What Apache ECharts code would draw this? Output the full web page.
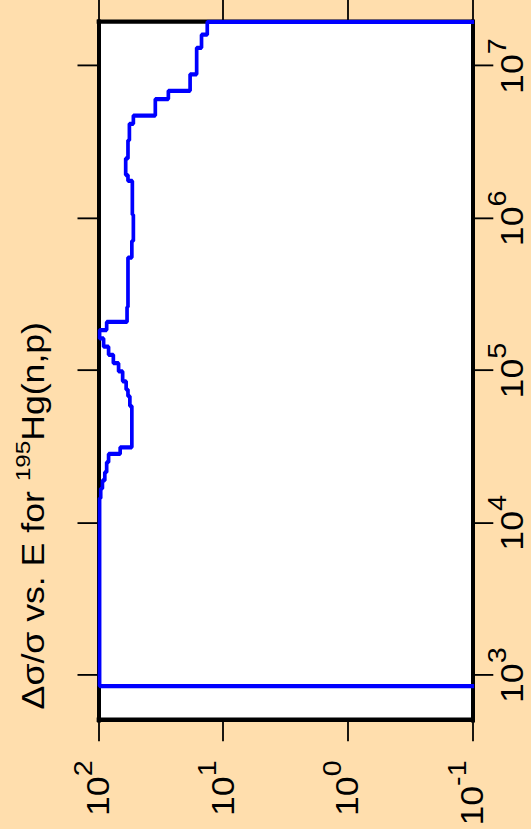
<!DOCTYPE html>
<html>
<head>
<meta charset="utf-8">
<script src="https://cdn.jsdelivr.net/npm/echarts@6/dist/echarts.min.js"></script>
<style>
  html, body { margin: 0; padding: 0; background: #FFDEAD; overflow: hidden; width: 531px; height: 829px; }
  #chart { position: absolute; left: 0; top: 0; width: 721px; height: 531px;
           transform-origin: 0 0; transform: translate(0px, 829px) rotate(-90deg) scaleX(1.15); }
</style>
</head>
<body>
<div id="chart"></div>
<script>
// Bin lower edges of incident energy E (eV); value holds until next edge
const energy = [500, 848, 14530, 16800, 19020, 21540, 25020, 28380, 31330, 58520, 67960, 75130,
  85050, 98810, 111900, 126900, 143700, 162700, 184500, 208900, 261600, 553200, 710400,
  1057000, 1760000, 1926000, 2474000, 3253000, 4177000, 4729000, 6072000, 6878000, 8831000,
  13180000, 16080000, 19530000];
// Relative uncertainty Δσ/σ for each bin (0.01 = below plotted range)
const relErr = [0.01, 98, 96, 93, 89, 86, 83, 67, 54, 56, 58, 60,
  64, 69, 76, 83, 91, 98, 86, 59, 58, 54, 52.5,
  53.5, 58, 60.5, 58, 56.5, 52.5, 35, 27.5, 18.4, 16.3,
  14.9, 13.4, 0.01];
const eTicks = [1e3, 1e4, 1e5, 1e6, 1e7];
const errTicks = [0.1, 1, 10, 100];
const eRange = [507, 1.953e7];
const errRange = [0.1, 100];
const titleMain = 'Δσ/σ vs. E for ';
const titleSup = '195';
const titleTail = 'Hg(n,p)';

const FONT = '"Liberation Sans", Arial, Helvetica, sans-serif';
const rich = {
  m: { fontSize: 31, lineHeight: 10, verticalAlign: 'bottom', fontFamily: FONT, color: '#000', fontWeight: 'normal' },
  s: { fontSize: 25, lineHeight: 43, verticalAlign: 'top', fontFamily: FONT, color: '#000', fontWeight: 'normal' }
};
function powLabel(v) {
  const e = Math.round(Math.log10(v));
  return '{m|10}{s|' + e + '}';
}

const chart = echarts.init(document.getElementById('chart'), null, { renderer: 'svg', width: 721, height: 531 });
const tickStyle = { color: '#000', width: 1.6 };
chart.setOption({
  animation: false,
  backgroundColor: '#FFDEAD',
  title: {
    text: '{m|' + titleMain + '}{s|' + titleSup + '}{m|' + titleTail + '}',
    left: 104, top: 13, padding: 0,
    textStyle: {
      fontWeight: 'normal',
      rich: {
        m: { fontSize: 31, lineHeight: 40, fontFamily: FONT, color: '#000', fontWeight: 'normal' },
        s: { fontSize: 21, lineHeight: 21, verticalAlign: 'top', fontFamily: FONT, color: '#000', fontWeight: 'normal' }
      }
    }
  },
  grid: { left: 88.7, right: 19.1, top: 98.5, bottom: 58.7, show: true, backgroundColor: '#fff', borderWidth: 0, containLabel: false },
  xAxis: [
    {
      type: 'log', logBase: 10, min: eRange[0], max: eRange[1], position: 'bottom',
      axisLine: { show: true, onZero: false, lineStyle: { color: '#000', width: 4, cap: 'square' } },
      axisTick: { show: true, inside: false, length: 21, lineStyle: tickStyle, customValues: eTicks },
      axisLabel: { show: true, customValues: eTicks, formatter: powLabel, rich: rich, margin: 13, color: '#000' },
      splitLine: { show: false }, minorTick: { show: false }
    },
    {
      type: 'log', logBase: 10, min: eRange[0], max: eRange[1], position: 'top',
      axisLine: { show: true, onZero: false, lineStyle: { color: '#000', width: 4, cap: 'square' } },
      axisTick: { show: true, inside: false, length: 21, lineStyle: tickStyle, customValues: eTicks },
      axisLabel: { show: false },
      splitLine: { show: false }
    }
  ],
  yAxis: [
    {
      type: 'log', logBase: 10, min: errRange[0], max: errRange[1], position: 'left',
      axisLine: { show: true, onZero: false, lineStyle: { color: '#000', width: 3.7, cap: 'square' } },
      axisTick: { show: true, inside: false, length: 18.3, lineStyle: { color: '#000', width: 1.8 }, customValues: errTicks },
      axisLabel: { show: true, customValues: errTicks, formatter: powLabel, rich: rich, margin: 35, padding: [0, 0, 12, 0], color: '#000' },
      splitLine: { show: false }
    },
    {
      type: 'log', logBase: 10, min: errRange[0], max: errRange[1], position: 'right',
      axisLine: { show: true, onZero: false, lineStyle: { color: '#000', width: 3.7, cap: 'square' } },
      axisTick: { show: true, inside: false, length: 19.1, lineStyle: { color: '#000', width: 1.8 }, customValues: errTicks },
      axisLabel: { show: false },
      splitLine: { show: false }
    }
  ],
  series: [{
    type: 'line',
    xAxisIndex: 0, yAxisIndex: 0,
    step: 'end',
    showSymbol: false, symbol: 'none',
    clip: true,
    z: 10,
    lineStyle: { color: '#0000ff', width: 3.7 },
    data: energy.map((e, i) => [e, relErr[i]])
  }]
});
</script>
</body>
</html>
